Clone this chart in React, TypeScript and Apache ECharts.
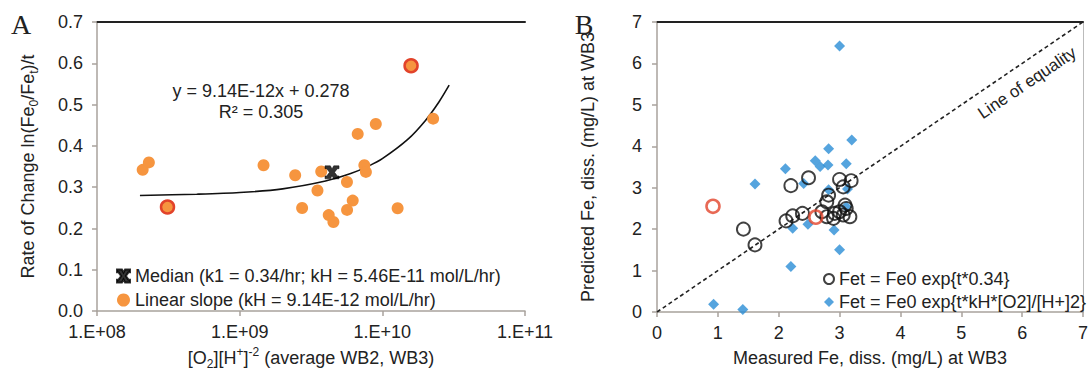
import React, { useEffect, useRef } from "react";
import * as echarts from "echarts";

// ---------- Panel A data ----------
const slopeX = [2.09e8, 2.31e8, 3.12e8, 1.59e10, 2.27e10, 9.0e9, 6.72e9, 1.47e9, 2.45e9, 3.73e9, 7.48e9, 7.67e9, 5.65e9, 3.51e9, 2.74e9, 6.2e9, 5.66e9, 4.21e9, 4.54e9, 1.28e10];
const slopeY = [0.342, 0.36, 0.252, 0.594, 0.466, 0.453, 0.429, 0.353, 0.329, 0.338, 0.353, 0.337, 0.3125, 0.292, 0.2495, 0.2675, 0.245, 0.2325, 0.2156, 0.249];
const slopeOutlined = [2, 3];
const medianX = [4.44e9];
const medianY = [0.336];
const trendX = [2.0e8, 5e8, 1e9, 2e9, 4e9, 6e9, 8e9, 1e10, 1.5e10, 2e10, 2.5e10, 2.94e10];
const trendY = [0.28, 0.283, 0.287, 0.296, 0.315, 0.333, 0.351, 0.369, 0.415, 0.461, 0.507, 0.547];
const xTickLabelsA = ["1.E+08", "1.E+09", "1.E+10", "1.E+11"];

// ---------- Panel B data ----------
const blackX = [1.42, 1.61, 2.12, 2.23, 2.39, 2.2, 2.49, 2.71, 2.79, 2.9, 2.92, 2.82, 2.79, 3.0, 3.19, 3.06, 3.09, 3.11, 3.06, 3.17, 3.0];
const blackY = [2.0, 1.62, 2.2, 2.32, 2.38, 3.05, 3.24, 2.42, 2.3, 2.26, 2.38, 2.82, 2.66, 3.2, 3.17, 3.02, 2.58, 2.5, 2.34, 2.3, 2.42];
const redX = [0.92, 2.61];
const redY = [2.55, 2.29];
const blueX = [0.93, 1.41, 1.61, 2.11, 2.2, 2.23, 2.41, 2.48, 2.6, 2.68, 2.81, 2.82, 2.82, 2.91, 3.0, 3.0, 3.11, 3.13, 3.11, 3.2];
const blueY = [0.19, 0.06, 3.09, 3.46, 1.1, 2.02, 3.1, 2.12, 3.65, 3.51, 3.55, 3.94, 2.95, 1.98, 6.42, 1.5, 3.58, 2.97, 2.54, 4.15];
const eqX = [0, 7];
const eqY = [0, 7];

const MEDIAN_NAME = "Median (k1 = 0.34/hr; kH = 5.46E-11 mol/L/hr)";
const SLOPE_NAME = "Linear slope (kH = 9.14E-12 mol/L/hr)";
const CIRCLE_NAME = "Fet = Fe0 exp{t*0.34}";
const DIAMOND_NAME = "Fet = Fe0 exp{t*kH*[O2]/[H+]2}";

const FONT = "'Liberation Sans', Arial, sans-serif";
const SERIF = "'Liberation Serif', 'Times New Roman', serif";
const TXT = "#222222";
const AXIS = "#a8a29c";
const ORANGE = "#f6953f";
const RED = "#e2432a";
const BLUE = "#2b8dd6";

const zip = (xs: number[], ys: number[]) => xs.map((x, i) => [x, ys[i]]);

const medianSymbol =
  "path://M0,0 L3.8,0 L5,2.4 L6.2,0 L10,0 L10,2.2 L8.8,2.2 L6.8,5 L8.8,7.8 L10,7.8 L10,10 L6.2,10 L5,7.6 L3.8,10 L0,10 L0,7.8 L1.2,7.8 L3.2,5 L1.2,2.2 L0,2.2 Z";

const richSub = {
  sub: { fontSize: 12, lineHeight: 12, verticalAlign: "bottom", fontFamily: FONT, color: TXT },
  sup: { fontSize: 12, lineHeight: 12, verticalAlign: "top", fontFamily: FONT, color: TXT },
};

export default function App() {
  const ref = useRef<HTMLDivElement>(null);
  useEffect(() => {
    if (!ref.current) return;
    const chart = echarts.init(ref.current, undefined, { renderer: "svg" });
    const axisLine = { show: true, lineStyle: { color: AXIS, width: 1.5 } };
    const axisTick = { show: true, inside: false, length: 5, lineStyle: { color: AXIS, width: 1.5 } };
    const label = { fontSize: 18, color: TXT, fontFamily: FONT };
    const topLine = (gridIndex: number) => ({
      type: "value",
      gridIndex,
      position: "top",
      min: 0,
      max: 1,
      axisLine: { show: true, onZero: false, lineStyle: { color: "#222", width: 2 } },
      axisTick: { show: false },
      axisLabel: { show: false },
      splitLine: { show: false },
    });
    chart.setOption({
      animation: false,
      backgroundColor: "#ffffff",
      textStyle: { fontFamily: FONT },
      grid: [
        { left: 97, top: 22, width: 428, height: 291 },
        { left: 657, top: 22, width: 431, height: 290 },
      ],
      xAxis: [
        {
          type: "log",
          logBase: 10,
          gridIndex: 0,
          min: 1e8,
          max: 1e11,
          axisLine,
          axisTick,
          splitLine: { show: false },
          minorTick: { show: false },
          axisLabel: {
            ...label,
            margin: 12,
            formatter: (v: number) => xTickLabelsA[Math.round(Math.log10(v)) - 8] ?? "",
          },
          name: "[O{sub|2}][H{sup|+}]{sup|-2} (average WB2, WB3)",
          nameLocation: "middle",
          nameGap: 34,
          nameTextStyle: { fontSize: 18, color: TXT, fontFamily: FONT, lineHeight: 24, rich: richSub },
        },
        topLine(0),
        {
          type: "value",
          gridIndex: 1,
          min: 0,
          max: 7,
          interval: 1,
          axisLine,
          axisTick,
          splitLine: { show: false },
          axisLabel: { ...label, margin: 12 },
          name: "Measured Fe, diss. (mg/L) at WB3",
          nameLocation: "middle",
          nameGap: 37,
          nameTextStyle: { fontSize: 18, color: TXT, fontFamily: FONT },
        },
        topLine(1),
      ],
      yAxis: [
        {
          type: "value",
          gridIndex: 0,
          min: 0,
          max: 0.7,
          interval: 0.1,
          axisLine,
          axisTick,
          splitLine: { show: false },
          axisLabel: { ...label, margin: 14, formatter: (v: number) => v.toFixed(1) },
          name: "Rate of Change ln(Fe{sub|0}/Fe{sub|t})/t",
          nameLocation: "middle",
          nameRotate: 90,
          nameGap: 57,
          nameTextStyle: { fontSize: 18, color: TXT, fontFamily: FONT, lineHeight: 24, rich: richSub },
        },
        {
          type: "value",
          gridIndex: 1,
          min: 0,
          max: 7,
          interval: 1,
          axisLine,
          axisTick,
          splitLine: { show: false },
          axisLabel: { ...label, margin: 15 },
          name: "Predicted Fe, diss. (mg/L) at WB3",
          nameLocation: "middle",
          nameRotate: 90,
          nameGap: 60,
          nameTextStyle: { fontSize: 18, color: TXT, fontFamily: FONT },
        },
        {
          type: "value",
          gridIndex: 1,
          position: "right",
          min: 0,
          max: 7,
          axisLine: { show: true, onZero: false, lineStyle: { color: "#bbb", width: 1 } },
          axisTick: { show: false },
          axisLabel: { show: false },
          splitLine: { show: false },
        },
      ],
      legend: [
        {
          data: [MEDIAN_NAME, SLOPE_NAME],
          orient: "vertical",
          left: 111,
          top: 262,
          itemGap: 6,
          itemWidth: 13,
          itemHeight: 13,
          textStyle: { fontSize: 18, color: TXT, fontFamily: FONT },
          selectedMode: false,
        },
        {
          data: [CIRCLE_NAME, DIAMOND_NAME],
          orient: "vertical",
          left: 818,
          top: 265,
          itemGap: 5,
          itemWidth: 10,
          itemHeight: 10,
          textStyle: { fontSize: 18, color: TXT, fontFamily: FONT },
          selectedMode: false,
        },
      ],
      graphic: [
        { type: "text", x: 21, y: 24, style: { text: "A", fontSize: 28, fontFamily: SERIF, fill: "#222", align: "center", verticalAlign: "middle" } },
        { type: "text", x: 584, y: 24, style: { text: "B", fontSize: 28, fontFamily: SERIF, fill: "#222", align: "center", verticalAlign: "middle" } },
        { type: "text", x: 261, y: 91, style: { text: "y = 9.14E-12x + 0.278", fontSize: 18, fontFamily: FONT, fill: TXT, align: "center", verticalAlign: "middle" } },
        { type: "text", x: 261, y: 112, style: { text: "R² = 0.305", fontSize: 18, fontFamily: FONT, fill: TXT, align: "center", verticalAlign: "middle" } },
        { type: "text", x: 1027, y: 83, rotation: (34 * Math.PI) / 180, style: { text: "Line of equality", fontSize: 17, fontFamily: FONT, fill: TXT, align: "center", verticalAlign: "middle" } },
      ],
      series: [
        {
          type: "line",
          xAxisIndex: 0,
          yAxisIndex: 0,
          data: zip(trendX, trendY),
          showSymbol: false,
          smooth: 0.3,
          lineStyle: { color: "#111", width: 1.6 },
          silent: true,
          z: 2,
        },
        {
          name: SLOPE_NAME,
          type: "scatter",
          xAxisIndex: 0,
          yAxisIndex: 0,
          symbol: "circle",
          symbolSize: 12,
          itemStyle: { color: ORANGE, opacity: 1 },
          data: slopeX.map((x, i) =>
            slopeOutlined.includes(i)
              ? { value: [x, slopeY[i]], symbolSize: 13, itemStyle: { color: ORANGE, borderColor: RED, borderWidth: 2.5 } }
              : { value: [x, slopeY[i]] }
          ),
          z: 3,
        },
        {
          name: MEDIAN_NAME,
          type: "scatter",
          xAxisIndex: 0,
          yAxisIndex: 0,
          symbol: medianSymbol,
          symbolSize: [14, 13],
          itemStyle: { color: "#000", borderColor: "#000", borderWidth: 0.6 },
          data: zip(medianX, medianY),
          z: 4,
        },
        {
          type: "line",
          xAxisIndex: 2,
          yAxisIndex: 1,
          data: zip(eqX, eqY),
          showSymbol: false,
          lineStyle: { color: "#222", width: 1.6, type: [4, 3] },
          silent: true,
          z: 2,
        },
        {
          name: DIAMOND_NAME,
          type: "scatter",
          xAxisIndex: 2,
          yAxisIndex: 1,
          symbol: "diamond",
          symbolSize: 11,
          itemStyle: { color: BLUE },
          data: zip(blueX, blueY),
          z: 3,
        },
        {
          name: CIRCLE_NAME,
          type: "scatter",
          xAxisIndex: 2,
          yAxisIndex: 1,
          symbol: "circle",
          symbolSize: 13,
          itemStyle: { color: "rgba(255,255,255,0)", borderColor: "#111", borderWidth: 1.9 },
          data: zip(blackX, blackY),
          z: 4,
        },
        {
          type: "scatter",
          xAxisIndex: 2,
          yAxisIndex: 1,
          symbol: "circle",
          symbolSize: 13,
          itemStyle: { color: "rgba(255,255,255,0)", borderColor: RED, borderWidth: 2.6 },
          data: zip(redX, redY),
          z: 5,
        },
      ],
    });
    return () => chart.dispose();
  }, []);
  return <div ref={ref} style={{ position: "fixed", left: 0, top: 0, width: 1091, height: 375, background: "#fff" }} />;
}
